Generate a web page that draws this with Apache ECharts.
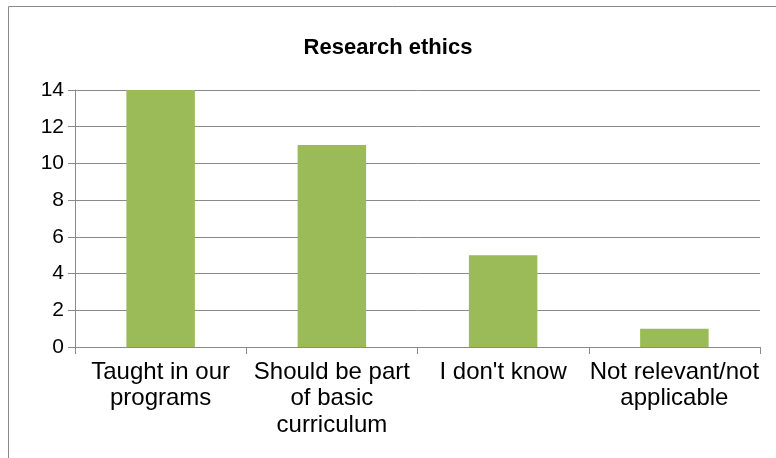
<!DOCTYPE html>
<html>
<head>
<meta charset="utf-8">
<script src="https://cdn.jsdelivr.net/npm/echarts@6/dist/echarts.min.js"></script>
<style>
html,body{margin:0;padding:0;background:#fff;}
#chart{width:776px;height:458px;}
</style>
</head>
<body>
<div id="chart"></div>
<script>
const titleText = "Research ethics";
const categories = ["Taught in our\nprograms", "Should be part\nof basic\ncurriculum", "I don't know", "Not relevant/not\napplicable"];
const values = [14, 11, 5, 1];
const yTicks = [0, 2, 4, 6, 8, 10, 12, 14];

const chart = echarts.init(document.getElementById('chart'), null, {renderer: 'canvas'});
chart.setOption({
  animation: false,
  backgroundColor: '#ffffff',
  graphic: [{
    type: 'rect',
    shape: {x: 8.5, y: 6.5, width: 800, height: 500},
    style: {fill: 'none', stroke: '#8a8a8a', lineWidth: 1},
    silent: true
  }],
  title: {
    text: titleText,
    left: 'center',
    top: 32,
    textStyle: {fontFamily: 'Liberation Sans, Arial, sans-serif', fontWeight: 'bold', fontSize: 22, color: '#000'}
  },
  grid: {left: 75, right: 16, top: 90, bottom: 111, containLabel: false},
  xAxis: {
    type: 'category',
    data: categories,
    axisLine: {lineStyle: {color: '#8a8a8a', width: 1}},
    axisTick: {show: true, length: 7, lineStyle: {color: '#8a8a8a'}},
    axisLabel: {fontFamily: 'Liberation Sans, Arial, sans-serif', fontSize: 24, color: '#000', lineHeight: 26.5, margin: 12, interval: 0}
  },
  yAxis: {
    type: 'value',
    min: 0, max: 14, interval: 2,
    axisLine: {show: true, lineStyle: {color: '#8a8a8a', width: 1}},
    axisTick: {show: true, length: 7, lineStyle: {color: '#8a8a8a'}},
    splitLine: {show: true, lineStyle: {color: '#8a8a8a', width: 1}},
    axisLabel: {fontFamily: 'Liberation Sans, Arial, sans-serif', fontSize: 21, color: '#000', margin: 11}
  },
  series: [{
    type: 'bar',
    data: values,
    barCategoryGap: '60%',
    itemStyle: {color: '#9bbb59'}
  }]
});
</script>
</body>
</html>
